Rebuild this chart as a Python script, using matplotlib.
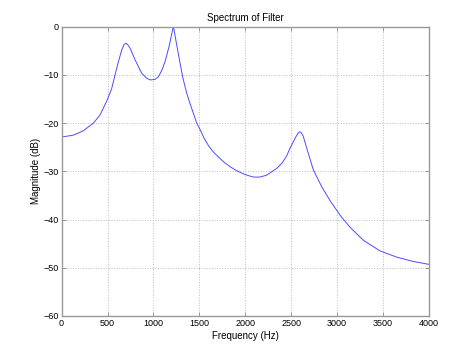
import matplotlib
matplotlib.use('Agg')
import matplotlib.pyplot as plt

# values
freq = [0, 129, 237, 346, 419, 492, 546, 582, 618, 655, 680, 702, 722, 746,
        800, 870, 920, 956, 981, 1020, 1054, 1090, 1126, 1174, 1200, 1217,
        1232, 1253, 1290, 1320, 1362, 1399, 1471, 1507, 1550, 1600, 1652,
        1761, 1830, 1907, 2000, 2088, 2160, 2233, 2342, 2400, 2451, 2487,
        2541, 2570, 2590, 2610, 2632, 2686, 2741, 2832, 2930, 3040, 3140,
        3285, 3466, 3648, 3829, 4000]
mag_db = [-22.9, -22.5, -21.6, -20.0, -18.3, -15.4, -12.8, -10.0, -7.3, -4.8,
          -3.7, -3.45, -3.8, -4.5, -6.9, -9.6, -10.6, -11.0, -11.05, -10.9,
          -10.4, -9.1, -7.3, -3.8, -1.4, 0.0, -1.5, -3.8, -7.6, -10.6, -13.8,
          -16.0, -20.0, -21.3, -23.1, -24.7, -26.0, -28.0, -29.0, -29.9,
          -30.7, -31.2, -31.2, -30.8, -29.4, -28.3, -26.8, -25.2, -23.2,
          -22.2, -21.8, -22.0, -22.8, -26.3, -29.7, -33.2, -36.3, -39.3,
          -41.6, -44.3, -46.5, -47.8, -48.7, -49.3]
xticks = [0, 500, 1000, 1500, 2000, 2500, 3000, 3500, 4000]
yticks = [0, -10, -20, -30, -40, -50, -60]

plt.rcParams['font.family'] = ['Liberation Sans', 'DejaVu Sans']

fig = plt.figure(figsize=(4.74, 3.55), dpi=100)
ax = fig.add_axes([0.13, 0.11, 0.775, 0.815])
ax.plot(freq, mag_db, color='#0000ff', linewidth=0.7, alpha=0.7,
        solid_joinstyle='round')

ax.set_xlim(0, 4000)
ax.set_ylim(-60, 0)
ax.set_xticks(xticks)
ax.set_yticks(yticks)
ax.tick_params(direction='in', length=3, width=0.6, labelsize=6.5,
               top=True, right=True, pad=2, colors='#888888',
               labelcolor='black')
for s in ax.spines.values():
    s.set_color('#999999')
    s.set_linewidth(1.0)
ax.grid(True, linestyle=':', color='#bbbbbb', linewidth=0.7)

ax.set_title('Spectrum of Filter', fontsize=7, pad=4)
ax.set_xlabel('Frequency (Hz)', fontsize=7, labelpad=2)
ax.set_ylabel('Magnitude (dB)', fontsize=7, labelpad=2)

fig.savefig('out.png', dpi=100)
